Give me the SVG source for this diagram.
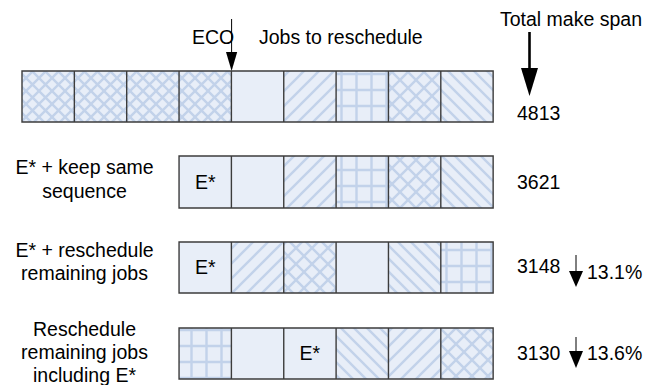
<svg xmlns="http://www.w3.org/2000/svg" width="660" height="385" viewBox="0 0 660 385">
  <style>
    .job { fill: #e8eef8; }
    .edge { fill: none; stroke: #3c3c3c; stroke-width: 1.4; }
    .lbl { font-family: "Liberation Sans", Arial, sans-serif; font-size: 19.5px; fill: #000; }
    .mid { text-anchor: middle; }
    .hl { stroke: #c2d2ea; stroke-width: 2.4; fill: none; }
  </style>
  <defs>
    <pattern id="pXs" patternUnits="userSpaceOnUse" width="13" height="13">
      <rect width="13" height="13" fill="#e8eef8"/>
      <path class="hl" d="M-1,-1 L14,14 M14,-1 L-1,14"/>
    </pattern>
    <pattern id="pXl" patternUnits="userSpaceOnUse" width="16" height="16">
      <rect width="16" height="16" fill="#e8eef8"/>
      <path class="hl" d="M-1,-1 L17,17 M17,-1 L-1,17"/>
    </pattern>
    <pattern id="pFwd" patternUnits="userSpaceOnUse" width="15" height="15">
      <rect width="15" height="15" fill="#e8eef8"/>
      <path class="hl" d="M-1,16 L16,-1 M-8,8 L8,-8 M7,23 L23,7"/>
    </pattern>
    <pattern id="pBack" patternUnits="userSpaceOnUse" width="13" height="13">
      <rect width="13" height="13" fill="#e8eef8"/>
      <path class="hl" d="M-1,-1 L14,14 M-7,6 L7,20 M6,-7 L20,7"/>
    </pattern>
    <pattern id="pGrid" patternUnits="userSpaceOnUse" width="15" height="16" x="4" y="2">
      <rect width="15" height="16" fill="#e8eef8"/>
      <path class="hl" d="M7.5,0 V16 M0,8 H15"/>
    </pattern>
  </defs>

  <!-- headings -->
  <text class="lbl" x="192" y="44">ECO</text>
  <text class="lbl" x="259" y="44">Jobs to reschedule</text>
  <text class="lbl" x="500" y="26">Total make span</text>

  <!-- row 1: original schedule -->
  <g id="row-original">
    <rect x="22" y="71" width="52.35" height="51" fill="url(#pXs)"/>
    <rect x="74.35" y="71" width="52.35" height="51" fill="url(#pXs)"/>
    <rect x="126.7" y="71" width="52.35" height="51" fill="url(#pXs)"/>
    <rect x="179.05" y="71" width="52.35" height="51" fill="url(#pXs)"/>
    <rect x="231.4" y="71" width="52.35" height="51" class="job"/>
    <rect x="283.75" y="71" width="52.35" height="51" fill="url(#pFwd)"/>
    <rect x="336.1" y="71" width="52.35" height="51" fill="url(#pGrid)"/>
    <rect x="388.45" y="71" width="52.35" height="51" fill="url(#pXl)"/>
    <rect x="440.8" y="71" width="52.35" height="51" fill="url(#pBack)"/>
    <path class="edge" d="M22,71 H493.15 V122 H22 Z M74.35,71 V122 M126.7,71 V122 M179.05,71 V122 M231.4,71 V122 M283.75,71 V122 M336.1,71 V122 M388.45,71 V122 M440.8,71 V122"/>
    <text class="lbl" x="517" y="120">4813</text>
  </g>

  <!-- row 2: E* + keep same sequence -->
  <g id="row-keep">
    <text class="lbl mid" x="84.5" y="174">E* + keep same</text>
    <text class="lbl mid" x="84.5" y="198">sequence</text>
    <rect x="179.05" y="156" width="52.35" height="52" class="job"/>
    <rect x="231.4" y="156" width="52.35" height="52" class="job"/>
    <rect x="283.75" y="156" width="52.35" height="52" fill="url(#pFwd)"/>
    <rect x="336.1" y="156" width="52.35" height="52" fill="url(#pGrid)"/>
    <rect x="388.45" y="156" width="52.35" height="52" fill="url(#pXl)"/>
    <rect x="440.8" y="156" width="52.35" height="52" fill="url(#pBack)"/>
    <path class="edge" d="M179.05,156 H493.15 V208 H179.05 Z M231.4,156 V208 M283.75,156 V208 M336.1,156 V208 M388.45,156 V208 M440.8,156 V208"/>
    <text class="lbl mid" x="205.2" y="189">E*</text>
    <text class="lbl" x="517" y="189">3621</text>
  </g>

  <!-- row 3: E* + reschedule remaining jobs -->
  <g id="row-resched">
    <text class="lbl mid" x="84.5" y="257">E* + reschedule</text>
    <text class="lbl mid" x="84.5" y="280">remaining jobs</text>
    <rect x="179.05" y="242" width="52.35" height="51" class="job"/>
    <rect x="231.4" y="242" width="52.35" height="51" fill="url(#pFwd)"/>
    <rect x="283.75" y="242" width="52.35" height="51" fill="url(#pXl)"/>
    <rect x="336.1" y="242" width="52.35" height="51" class="job"/>
    <rect x="388.45" y="242" width="52.35" height="51" fill="url(#pBack)"/>
    <rect x="440.8" y="242" width="52.35" height="51" fill="url(#pGrid)"/>
    <path class="edge" d="M179.05,242 H493.15 V293 H179.05 Z M231.4,242 V293 M283.75,242 V293 M336.1,242 V293 M388.45,242 V293 M440.8,242 V293"/>
    <text class="lbl mid" x="205.2" y="274">E*</text>
    <text class="lbl" x="517" y="273">3148</text>
    <text class="lbl" x="587" y="279">13.1%</text>
  </g>

  <!-- row 4: reschedule remaining jobs including E* -->
  <g id="row-all">
    <text class="lbl mid" x="84.5" y="336">Reschedule</text>
    <text class="lbl mid" x="84.5" y="359">remaining jobs</text>
    <text class="lbl mid" x="84.5" y="382">including E*</text>
    <rect x="179.05" y="328" width="52.35" height="51" fill="url(#pGrid)"/>
    <rect x="231.4" y="328" width="52.35" height="51" class="job"/>
    <rect x="283.75" y="328" width="52.35" height="51" class="job"/>
    <rect x="336.1" y="328" width="52.35" height="51" fill="url(#pBack)"/>
    <rect x="388.45" y="328" width="52.35" height="51" fill="url(#pFwd)"/>
    <rect x="440.8" y="328" width="52.35" height="51" fill="url(#pXl)"/>
    <path class="edge" d="M179.05,328 H493.15 V379 H179.05 Z M231.4,328 V379 M283.75,328 V379 M336.1,328 V379 M388.45,328 V379 M440.8,328 V379"/>
    <text class="lbl mid" x="309.9" y="360">E*</text>
    <text class="lbl" x="517" y="360">3130</text>
    <text class="lbl" x="587" y="360">13.6%</text>
  </g>

  <!-- arrows -->
  <g id="connectors" fill="#000" stroke="#000">
    <line x1="231.6" y1="19" x2="231.6" y2="53" stroke-width="1"/>
    <polygon points="226,52 237.2,52 231.6,71" stroke="none"/>
    <line x1="529.5" y1="32" x2="529.5" y2="69" stroke-width="2.6"/>
    <polygon points="521,68 538,68 529.5,96" stroke="none"/>
    <line x1="576" y1="255" x2="576" y2="272" stroke-width="1"/>
    <polygon points="569,271 583,271 576,287" stroke="none"/>
    <line x1="576" y1="337" x2="576" y2="352" stroke-width="1"/>
    <polygon points="569,351 583,351 576,368" stroke="none"/>
  </g>
</svg>
